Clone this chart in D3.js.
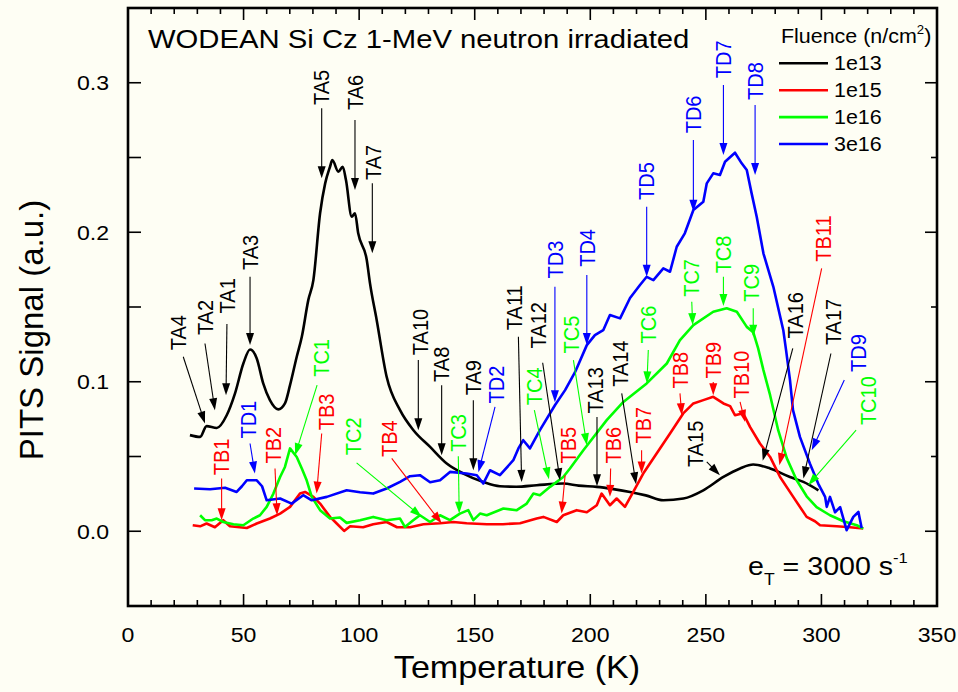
<!DOCTYPE html>
<html><head><meta charset="utf-8">
<script src="https://cdn.jsdelivr.net/npm/d3@7"></script>
<style>
html,body{margin:0;padding:0;background:#fefef4;}
svg{display:block;}
text{font-family:"Liberation Sans",Arial,Helvetica,sans-serif;}
</style></head><body>
<svg id="chart" width="958" height="692"></svg>
<script>
// ---------------- data ----------------
const xTickLabels = [0, 50, 100, 150, 200, 250, 300, 350];
const yTickLabels = [0.0, 0.1, 0.2, 0.3];
const seriesNames = ["1e13", "1e15", "1e16", "3e16"];
const seriesColors = ["#000000", "#ff0000", "#00ff00", "#0000ff"];

const temp1e13 = [26.8,31.2,34.0,38.4,42.7,46.3,49.9,52.8,55.7,58.5,61.4,65.0,67.9,70.1,73.0,75.2,78.0,80.2,83.1,85.3,87.4,88.4,91.0,92.9,94.3,96.8,98.2,99.6,103.3,104.7,107.6,111.9,117.7,123.5,130.7,137.9,145.1,153.7,160.9,168.0,176.8,188.3,195.0,202.8,210.0,217.2,224.0,231.6,240.3,248.9,257.6,264.8,270.5,277.8,286.4,292.2,298.7];
const sig1e13  = [0.0643,0.0631,0.0703,0.0691,0.0776,0.0922,0.1122,0.1216,0.1156,0.0989,0.0877,0.0815,0.0855,0.0977,0.1167,0.1301,0.1546,0.1680,0.2127,0.2327,0.2438,0.2483,0.2405,0.2438,0.2349,0.2104,0.2127,0.1993,0.1814,0.1658,0.1412,0.1033,0.0810,0.0676,0.0564,0.0453,0.0386,0.0330,0.0301,0.0298,0.0308,0.0319,0.0305,0.0297,0.0282,0.0263,0.0240,0.0207,0.0219,0.0274,0.0363,0.0420,0.0446,0.0420,0.0363,0.0330,0.0274];

const temp1e15 = [28.0,31.2,34.0,37.6,41.2,44.1,51.4,55.7,61.4,65.8,70.1,74.4,76.6,80.2,83.1,87.4,90.3,93.5,96.1,101.7,106.1,111.9,116.4,122.0,127.8,135.0,140.7,146.5,155.3,162.2,169.6,176.8,179.7,185.5,188.3,194.1,198.5,202.8,204.9,208.5,211.4,215.0,218.6,222.9,228.7,234.5,240.2,244.6,248.9,253.2,257.6,260.5,262.6,266.1,269.1,273.4,277.8,282.1,287.8,293.6,297.2,299.4,306.6,312.3,318.1];
const sig1e15  = [0.0040,0.0033,0.0052,0.0027,0.0074,0.0033,0.0022,0.0052,0.0085,0.0118,0.0163,0.0252,0.0263,0.0230,0.0185,0.0096,0.0052,0.0002,0.0033,0.0027,0.0047,0.0062,0.0027,0.0027,0.0047,0.0054,0.0062,0.0054,0.0047,0.0047,0.0054,0.0085,0.0096,0.0062,0.0107,0.0141,0.0127,0.0174,0.0252,0.0174,0.0219,0.0163,0.0263,0.0386,0.0520,0.0654,0.0788,0.0855,0.0877,0.0899,0.0855,0.0837,0.0776,0.0790,0.0698,0.0587,0.0497,0.0363,0.0230,0.0096,0.0067,0.0040,0.0033,0.0027,0.0018];

const temp1e16 = [31.2,33.3,36.2,38.4,41.2,45.6,49.9,54.2,57.1,60.0,62.9,65.8,67.9,70.1,73.0,75.2,77.3,79.5,83.1,87.4,91.7,94.6,100.4,106.1,111.9,117.7,119.8,123.4,126.3,130.7,135.0,139.3,143.6,147.2,149.4,152.3,155.2,162.4,168.2,172.5,175.4,178.2,182.6,188.3,191.2,197.0,207.1,214.3,224.4,233.1,238.8,244.6,253.2,259.0,263.4,267.7,270.5,272.6,274.9,277.8,281.3,285.0,289.3,293.6,297.9,303.7,309.5,315.3,318.1];
const sig1e16  = [0.0107,0.0074,0.0074,0.0085,0.0062,0.0047,0.0040,0.0085,0.0107,0.0163,0.0252,0.0363,0.0430,0.0554,0.0497,0.0420,0.0341,0.0230,0.0141,0.0085,0.0092,0.0056,0.0074,0.0096,0.0074,0.0085,0.0029,0.0074,0.0107,0.0062,0.0107,0.0074,0.0118,0.0141,0.0074,0.0118,0.0107,0.0152,0.0141,0.0185,0.0252,0.0241,0.0297,0.0363,0.0420,0.0542,0.0743,0.0865,0.0989,0.1122,0.1278,0.1379,0.1468,0.1491,0.1468,0.1367,0.1332,0.1225,0.1078,0.0910,0.0676,0.0489,0.0341,0.0234,0.0161,0.0107,0.0067,0.0040,0.0018];

const temp3e16 = [28.6,35.5,42.0,47.0,49.3,51.4,55.7,58.0,60.0,65.8,70.8,75.8,79.5,86.0,94.6,100.4,106.1,111.9,117.7,122.0,126.3,130.7,135.0,139.3,146.5,150.9,153.7,156.6,160.9,166.7,168.9,171.0,173.9,178.2,184.7,189.1,193.4,198.5,202.0,205.6,208.5,212.9,217.2,221.5,224.4,227.3,231.6,234.5,237.4,240.9,244.6,248.9,250.4,253.2,256.1,258.3,262.6,265.5,267.7,269.8,272.0,274.9,279.2,283.5,284.7,286.4,287.7,290.7,295.0,298.6,301.6,302.3,303.7,305.9,308.1,310.9,313.8,316.0,317.4];
const sig3e16  = [0.0286,0.0281,0.0291,0.0263,0.0301,0.0341,0.0341,0.0301,0.0207,0.0219,0.0185,0.0241,0.0207,0.0230,0.0274,0.0261,0.0252,0.0286,0.0330,0.0368,0.0375,0.0328,0.0341,0.0397,0.0386,0.0375,0.0319,0.0408,0.0375,0.0475,0.0554,0.0609,0.0554,0.0676,0.0843,0.0944,0.1064,0.1245,0.1312,0.1345,0.1446,0.1424,0.1560,0.1647,0.1702,0.1680,0.1758,0.1736,0.1903,0.1993,0.2149,0.2204,0.2327,0.2394,0.2383,0.2472,0.2532,0.2461,0.2416,0.2260,0.2104,0.1859,0.1635,0.1345,0.1212,0.1011,0.0810,0.0631,0.0453,0.0319,0.0230,0.0163,0.0230,0.0127,0.0161,0.0007,0.0096,0.0129,0.0022];

// peak annotations: label, series index, text anchor [T, signal], arrow start, arrow tip
const annLabel  = ["TA1","TA2","TA3","TA4","TA5","TA6","TA7","TA8","TA9","TA10","TA11","TA12","TA13","TA14","TA15","TA16","TA17",
                   "TB1","TB2","TB3","TB4","TB5","TB6","TB7","TB8","TB9","TB10","TB11",
                   "TC1","TC2","TC3","TC4","TC5","TC6","TC7","TC8","TC9","TC10",
                   "TD1","TD2","TD3","TD4","TD5","TD6","TD7","TD8","TD9"];
const annSeries = [0,0,0,0,0,0,0,0,0,0,0,0,0,0,0,0,0,
                   1,1,1,1,1,1,1,1,1,1,1,
                   2,2,2,2,2,2,2,2,2,2,
                   3,3,3,3,3,3,3,3,3];
const annText = [[42.8,0.1457],[33.3,0.1312],[52.8,0.1747],[21.6,0.1211],[83.8,0.2851],[98.2,0.2818],[106.1,0.2349],[135.7,0.0999],[149.4,0.0910],[126.3,0.1178],[167.3,0.1345],[177.5,0.1223],[202.0,0.0788],[212.9,0.0966],[245.3,0.0430],[288.6,0.1290],[305.1,0.1245],
                 [40.5,0.0375],[62.9,0.0453],[86.0,0.0676],[113.0,0.0497],[190.5,0.0453],[210.0,0.0453],[222.9,0.0587],[238.8,0.0955],[253.2,0.1022],[265.5,0.0888],[300.8,0.1803],
                 [83.8,0.1033],[97.5,0.0509],[142.9,0.0531],[175.7,0.0843],[192.0,0.1189],[225.1,0.1256],[243.9,0.1568],[257.6,0.1725],[269.8,0.1535],[320.3,0.0710],
                 [52.0,0.0620],[159.5,0.0855],[184.7,0.1691],[198.5,0.1769],[224.4,0.2216],[244.6,0.2662],[257.6,0.3030],[271.3,0.2885],[316.0,0.1066]];
const annFrom = [[42.8,0.1386],[33.3,0.1256],[52.8,0.1702],[23.9,0.1167],[83.8,0.2829],[98.2,0.2751],[105.7,0.2327],[135.7,0.0977],[149.4,0.0877],[125.6,0.1145],[168.9,0.1301],[179.4,0.1127],[202.9,0.0765],[213.6,0.0922],[250.4,0.0464],[287.6,0.1223],[304.1,0.1189],
                 [40.5,0.0353],[63.6,0.0420],[83.8,0.0654],[114.1,0.0487],[189.1,0.0375],[208.8,0.0420],[222.2,0.0542],[238.8,0.0922],[253.2,0.0999],[264.8,0.0865],[300.1,0.1758],
                 [81.8,0.0977],[98.9,0.0457],[142.9,0.0502],[175.8,0.0810],[192.7,0.1145],[225.1,0.1212],[243.9,0.1535],[257.6,0.1702],[270.5,0.1491],[315.0,0.0676],
                 [52.8,0.0587],[158.8,0.0832],[184.7,0.1635],[198.5,0.1714],[224.4,0.2171],[244.6,0.2617],[257.6,0.2985],[271.3,0.2851],[309.9,0.1011]];
const annTo   = [[42.4,0.0910],[37.6,0.0810],[52.8,0.1245],[33.3,0.0721],[83.8,0.2361],[98.2,0.2282],[105.7,0.1859],[135.7,0.0509],[149.4,0.0408],[125.6,0.0676],[170.3,0.0330],[186.9,0.0341],[202.9,0.0301],[219.8,0.0315],[256.1,0.0375],[274.6,0.0471],[292.2,0.0353],
                 [40.5,0.0074],[64.5,0.0107],[81.6,0.0252],[135.7,0.0052],[187.6,0.0118],[208.5,0.0230],[222.2,0.0386],[239.6,0.0776],[253.2,0.0910],[266.9,0.0732],[281.8,0.0442],
                 [72.3,0.0509],[127.1,0.0096],[143.3,0.0118],[182.1,0.0348],[198.5,0.0576],[224.5,0.0989],[244.3,0.1379],[257.6,0.1506],[270.5,0.1301],[294.3,0.0308],
                 [54.9,0.0386],[151.6,0.0395],[184.7,0.0863],[198.5,0.1245],[224.4,0.1702],[244.6,0.2137],[257.6,0.2517],[271.3,0.2383],[295.8,0.0542]];

// ---------------- drawing ----------------
const svg = d3.select("#chart");
const SX = 1.1; // horizontal stretch of the original glyphs
const x = d3.scaleLinear().domain([0, 350]).range([128, 937]);
const y = d3.scaleLinear().domain([-0.05, 0.35]).range([606, 8]);

svg.append("rect").attr("width", 958).attr("height", 692).attr("fill", "#fefef4");

function stext(g, tx, ty, str, size, anchor, rot, color, sx) {
  const s = sx || SX;
  return g.append("text")
    .attr("transform", `translate(${tx},${ty}) scale(${s},1)` + (rot ? " rotate(-90)" : ""))
    .attr("text-anchor", anchor || "start")
    .attr("font-size", size)
    .attr("fill", color || "#000")
    .text(str);
}

// ticks
const xMinor = d3.range(0, 351, 10);
const yMinorI = d3.range(-5, 36, 5).map(d => d / 100);
const axG = svg.append("g").attr("stroke", "#000").attr("stroke-width", 1.6);
xMinor.forEach(t => {
  const major = t % 50 === 0;
  const len = major ? 12 : 6;
  axG.append("line").attr("x1", x(t)).attr("x2", x(t)).attr("y1", y(-0.05)).attr("y2", y(-0.05) - len);
  axG.append("line").attr("x1", x(t)).attr("x2", x(t)).attr("y1", y(0.35)).attr("y2", y(0.35) + len);
});
yMinorI.forEach(v => {
  const major = Math.abs(Math.round(v * 100) % 10) === 0;
  axG.append("line").attr("x1", x(0)).attr("x2", x(0) + 13).attr("y1", y(v)).attr("y2", y(v));
  const len = major ? 12 : 6;
  axG.append("line").attr("x1", x(350)).attr("x2", x(350) - len).attr("y1", y(v)).attr("y2", y(v));
});

// frame
svg.append("rect").attr("x", x(0)).attr("y", y(0.35)).attr("width", x(350) - x(0)).attr("height", y(-0.05) - y(0.35))
  .attr("fill", "none").attr("stroke", "#000").attr("stroke-width", 2.6);

// tick labels
xTickLabels.forEach(t => stext(svg, x(t), 642, String(t), 21, "middle"));
yTickLabels.forEach(v => stext(svg, 109, y(v) + 7.5, d3.format(".1f")(v), 21, "end"));

// axis titles
stext(svg, 517, 678, "Temperature (K)", 31, "middle");
stext(svg, 43, 330, "PITS Signal (a.u.)", 33, "middle", true, "#000", 1.0);

// curves
const temps = [temp1e13, temp1e15, temp1e16, temp3e16];
const sigs = [sig1e13, sig1e15, sig1e16, sig3e16];
const line = d3.line().x(d => x(d[0])).y(d => y(d[1]));
temps.forEach((tt, i) => {
  const pts = tt.map((t, j) => [t, sigs[i][j]]);
  svg.append("path").datum(pts)
    .attr("d", line.curve(i === 0 ? d3.curveMonotoneX : d3.curveLinear))
    .attr("fill", "none").attr("stroke", seriesColors[i]).attr("stroke-width", 2.6)
    .attr("stroke-linejoin", "round");
});

// annotations
const annG = svg.append("g");
annLabel.forEach((lab, k) => {
  const col = seriesColors[annSeries[k]];
  const x1 = x(annFrom[k][0]), y1 = y(annFrom[k][1]);
  const x2 = x(annTo[k][0]), y2 = y(annTo[k][1]);
  const dx = x2 - x1, dy = y2 - y1, L = Math.hypot(dx, dy);
  const ux = dx / L, uy = dy / L;
  const hl = 12, hw = 4;
  const bx = x2 - ux * hl, by = y2 - uy * hl;
  annG.append("line").attr("x1", x1).attr("y1", y1).attr("x2", bx + ux * 2).attr("y2", by + uy * 2)
    .attr("stroke", col).attr("stroke-width", 1.1);
  annG.append("path")
    .attr("d", `M${x2},${y2}L${bx - uy * hw},${by + ux * hw}L${bx + uy * hw},${by - ux * hw}Z`)
    .attr("fill", col);
  stext(annG, x(annText[k][0]), y(annText[k][1]), lab, 20, "start", true, col).attr("dy", "0.35em");
});

// title
stext(svg, 148, 48, "WODEAN Si Cz 1-MeV neutron irradiated", 26.6, "start");

// legend
const lg = svg.append("g");
const lt = stext(lg, 781, 43, "Fluence (n/cm", 19.5, "start");
lt.append("tspan").attr("font-size", 12).attr("dy", -9).text("2");
lt.append("tspan").attr("dy", 9).text(")");
seriesNames.forEach((nm, i) => {
  const ly = 63.3 + i * 26.9;
  lg.append("line").attr("x1", 779).attr("x2", 828).attr("y1", ly).attr("y2", ly)
    .attr("stroke", seriesColors[i]).attr("stroke-width", 2.6);
  stext(lg, 834, ly + 7, nm, 19.5, "start");
});

// emission rate note
const et = stext(svg, 748, 575, "e", 26, "start");
et.append("tspan").attr("font-size", 16).attr("dy", 10).text("T");
et.append("tspan").attr("dy", -10).text(" = 3000 s");
et.append("tspan").attr("font-size", 15).attr("dy", -12).text("-1");
</script>
</body></html>
